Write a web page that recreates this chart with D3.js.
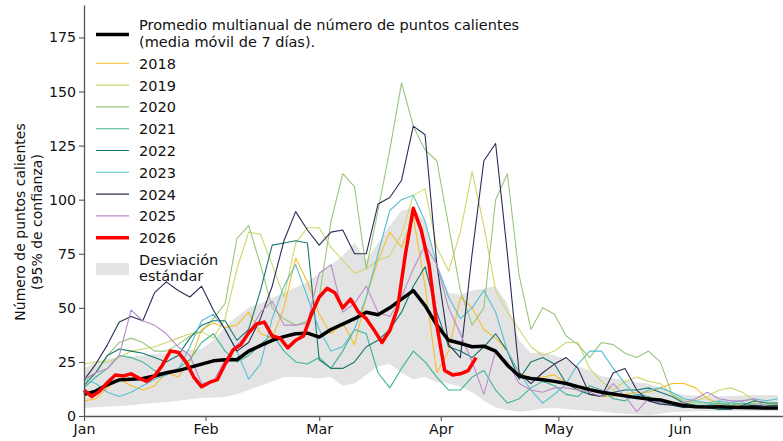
<!DOCTYPE html>
<html>
<head>
<meta charset="utf-8">
<script src="https://cdn.jsdelivr.net/npm/d3@7"></script>
<style>
  body { margin: 0; background: #fff; }
  svg text { font-family: "DejaVu Sans", sans-serif; fill: #111; }
</style>
</head>
<body>
<svg id="chart" width="783" height="441"></svg>
<script>
// días desde el 1 de enero
const dias = d3.range(0, 178, 3);
const dias2026 = d3.range(0, 101, 2);

const meses = ["Jan", "Feb", "Mar", "Apr", "May", "Jun"];
const ticksY = [0, 25, 50, 75, 100, 125, 150, 175];

const promedio = [10, 11.5, 14.5, 16.7, 17, 17.3, 18.5, 20, 21, 22.5,
  24, 25.5, 26, 26, 30, 32.5, 35, 36.7, 38, 38.3,
  36.5, 40, 42.5, 45, 48, 46.8, 50, 54, 58, 51,
  42, 35, 33.6, 32, 32.3, 30, 23.5, 18.5, 17.3, 16.8,
  16, 15, 13.6, 12.2, 11, 10.2, 9.3, 8.5, 7.9, 7.4,
  6, 4.8, 4.3, 4.2, 4.2, 4, 3.9, 3.8, 3.7, 3.7];

const bandaSup = [22, 25, 26.5, 27, 27.5, 28, 28.5, 29, 30, 30.5,
  31, 35, 41, 46, 50, 52, 54.5, 57, 59.5, 62,
  66, 70, 74, 80, 72, 80, 88, 95, 96, 90,
  70, 57, 56, 58, 59, 60, 52, 35, 29, 29.5,
  28, 26, 23, 21, 18.5, 17.5, 16.5, 15.5, 15, 13,
  11, 9.7, 9.5, 9, 9, 9.3, 9.5, 9.7, 9.7, 9.7];

const bandaInf = [3.7, 4, 4.3, 4.6, 5, 5.5, 6, 6.5, 7, 7.7,
  8.3, 8.5, 8.8, 10, 12, 14, 16, 18, 18, 17.8,
  17.5, 18, 14, 15, 19, 23, 24, 20, 17, 18,
  15.5, 15, 13.5, 11, 7, 4, 2.8, 2, 2.5, 3.5,
  3.7, 3.2, 2.8, 2.4, 2, 1.4, 1, 0.7, 0.5, 1,
  1.8, 2, 2.2, 2.3, 2.3, 2.3, 2.3, 2.3, 2.3, 2.3];

const anios = ["2018", "2019", "2020", "2021", "2022", "2023", "2024", "2025"];

const v2018 = [7, 8, 13, 17, 14, 12, 14, 20, 18, 25,
  40, 43, 41, 42, 48, 38, 36, 50, 73, 62,
  47, 38, 43, 33, 55, 72, 85, 78, 92, 60,
  20, 30, 55, 50, 40, 36, 30, 20, 17, 18,
  19, 15, 12, 10, 9, 9, 10, 11, 11, 13,
  15, 15, 13, 8, 6, 5, 4.5, 4, 3.7, 4];

const v2019 = [24, 25, 25, 27, 30, 31, 32, 34, 36, 38,
  39, 36, 45, 68, 85, 84, 70, 55, 80, 87,
  87, 78, 72, 66, 68, 72, 74, 84, 102, 105,
  78, 67, 85, 113, 88, 58, 48, 40, 32, 28,
  30, 34, 34, 22, 16, 12, 16, 18, 16, 15,
  10, 6, 7, 9, 12, 13, 11, 7, 6, 5];

const v2020 = [16, 20, 28, 34, 36, 34, 30, 30, 33, 37,
  39, 45, 52, 82, 88, 70, 50, 45, 42, 44,
  55, 90, 112, 106, 68, 95, 123, 154, 134, 123,
  118, 88, 58, 42, 50, 100, 112, 65, 40, 50,
  47, 37, 33, 27, 34, 33, 29, 27, 30, 25,
  10, 7, 6, 6, 5, 6, 5, 6, 5, 6];

const v2021 = [13, 18, 22, 28, 27, 25, 21, 19, 22, 26,
  34, 38, 30, 25, 28, 33, 38, 30, 25, 24,
  27, 22, 30, 40, 38, 20, 13, 22, 30, 25,
  18, 12, 12, 18, 21, 12, 6, 8, 13, 16,
  14, 10, 9, 14, 12, 8, 7, 10, 9, 6,
  5, 4, 5, 5, 6, 5, 6, 5, 5, 5];

const v2022 = [14, 20, 28, 31, 30, 29, 27, 25, 28, 36,
  42, 44, 44, 35, 40, 58, 79, 80, 81, 80,
  26, 22, 22, 25, 32, 35, 40, 48, 60, 69,
  48, 32, 30, 27, 32, 38, 30, 17, 25, 27,
  24, 15, 12, 10, 9, 11, 12, 12, 13, 11,
  9, 6, 5, 4, 3, 3, 5, 7, 6, 6];

const v2023 = [17, 15, 11, 9, 11, 14, 17, 19, 21, 32,
  44, 47, 40, 30, 17, 24, 45, 60, 70, 55,
  40, 30, 32, 40, 55, 75, 95, 100, 102, 90,
  70, 55, 45, 50, 58, 48, 30, 20, 12, 6,
  10, 15, 24, 30, 30, 22, 15, 9, 12, 13,
  11, 8, 7, 6, 7, 6, 7, 8, 7, 8];

const v2024 = [16.6, 24, 33, 43.5, 46, 44, 57, 62, 58, 55,
  60, 49, 40, 30, 34, 45, 60, 81, 94.5, 86,
  79, 85, 86, 75, 75, 98, 101, 109, 134, 130,
  70, 33, 27, 75, 118, 126, 75, 20, 15, 20,
  24, 27, 22, 10, 9, 20, 22, 12, 7, 5.5,
  5, 4, 4.5, 4, 5, 4, 4.5, 5, 4.5, 5];

const v2025 = [17, 20, 22, 28, 49, 44, 42, 38, 32, 28,
  15, 16, 26, 33, 38, 48, 53, 42, 42, 43,
  66, 70, 48, 52, 60, 48, 46, 55, 68, 79,
  70, 50, 38, 25, 10, 30, 25, 15, 12, 11,
  13, 13, 12, 11, 9, 15, 9, 2, 8, 6,
  6, 6, 8, 11, 8, 7, 7, 8, 4, 3];

const v2026 = [12, 9, 11.5, 15.5, 19, 18.5, 19.5, 17.5, 16, 18.5,
  23.5, 30, 29.5, 25, 18, 13.5, 15.5, 16.8, 24, 30.5,
  33, 38.5, 42.5, 43.4, 37, 36, 31.5, 35, 37, 47,
  55, 59, 57, 50, 54, 48, 45, 39.7, 34, 39.5,
  50, 75, 96, 86, 70, 42, 21, 19, 19.5, 21,
  27];

const valoresAnios = [v2018, v2019, v2020, v2021, v2022, v2023, v2024, v2025];
const colores = ["#f7bd2a", "#cdd76c", "#98c67b", "#3db497", "#17776f", "#55c0cd", "#2a2c54", "#b98bc9"];

const svg = d3.select("#chart");

const dia0 = Date.UTC(2024, 0, 1);
const fecha = d => new Date(dia0 + d * 86400000);

const x = d3.scaleUtc()
  .domain([fecha(0), fecha(178.3)])
  .range([84, 783]);

const y = d3.scaleLinear()
  .domain([0, 190])
  .range([416, 5]);

// banda de desviación estándar
const area = d3.area()
  .x((d, i) => x(fecha(dias[i])))
  .y0((d, i) => y(bandaInf[i]))
  .y1((d, i) => y(bandaSup[i]));

svg.append("path")
  .datum(bandaSup)
  .attr("fill", "#e3e3e3")
  .attr("d", area);

const linea = (ds) => d3.line()
  .x((d, i) => x(fecha(ds[i])))
  .y(d => y(d));

svg.selectAll(".anio")
  .data(valoresAnios)
  .join("path")
  .attr("class", "anio")
  .attr("fill", "none")
  .attr("stroke", (d, i) => colores[i])
  .attr("stroke-width", 1.1)
  .attr("stroke-linejoin", "round")
  .attr("d", d => linea(dias)(d));

svg.append("path")
  .datum(promedio)
  .attr("fill", "none")
  .attr("stroke", "#000")
  .attr("stroke-width", 3.5)
  .attr("stroke-linejoin", "round")
  .attr("d", linea(dias));

svg.append("path")
  .datum(v2026)
  .attr("fill", "none")
  .attr("stroke", "#ff0000")
  .attr("stroke-width", 3.5)
  .attr("stroke-linejoin", "round")
  .attr("d", linea(dias2026));

// ejes
const ticksX = d3.utcMonth.range(fecha(0), fecha(178.3));

const ejeX = svg.append("g")
  .attr("transform", "translate(0,416)")
  .call(d3.axisBottom(x).tickValues(ticksX).tickFormat((d, i) => meses[i]).tickSize(5).tickSizeOuter(0).tickPadding(3));

const ejeY = svg.append("g")
  .attr("transform", "translate(84,0)")
  .call(d3.axisLeft(y).tickValues(ticksY).tickSize(5).tickSizeOuter(0).tickPadding(3));

[ejeX, ejeY].forEach(g => {
  g.select(".domain").attr("stroke", "#555").attr("stroke-width", 1.3);
  g.selectAll(".tick line").attr("stroke", "#555").attr("stroke-width", 1.1);
  g.selectAll(".tick text").attr("font-size", 14.2).attr("fill", "#111")
    .attr("font-family", "DejaVu Sans, sans-serif");
});

// título del eje y
const ty = svg.append("g").attr("transform", "translate(0,222) rotate(-90)");
ty.append("text").attr("x", 0).attr("y", 20).attr("text-anchor", "middle")
  .attr("dominant-baseline", "central").attr("font-size", 14)
  .text("Número de puntos calientes");
ty.append("text").attr("x", 0).attr("y", 37).attr("text-anchor", "middle")
  .attr("dominant-baseline", "central").attr("font-size", 14)
  .text("(95% de confianza)");

// leyenda
const ley = svg.append("g");
ley.append("line").attr("x1", 96).attr("x2", 129).attr("y1", 34.5).attr("y2", 34.5)
  .attr("stroke", "#000").attr("stroke-width", 3.5);
ley.append("text").attr("x", 139).attr("y", 30).attr("font-size", 14.5)
  .text("Promedio multianual de número de puntos calientes");
ley.append("text").attr("x", 139).attr("y", 47).attr("font-size", 14.5)
  .text("(media móvil de 7 días).");

const etiquetas = anios.concat(["2026"]);
const coloresLey = colores.concat(["#ff0000"]);
etiquetas.forEach((t, i) => {
  const yy = 63.3 + i * 21.8;
  ley.append("line").attr("x1", 96).attr("x2", 129).attr("y1", yy).attr("y2", yy)
    .attr("stroke", coloresLey[i]).attr("stroke-width", t === "2026" ? 3.5 : 1.1);
  ley.append("text").attr("x", 139).attr("y", yy + 5.5).attr("font-size", 14.5).text(t);
});

ley.append("rect").attr("x", 96).attr("y", 263).attr("width", 33).attr("height", 12)
  .attr("fill", "#e3e3e3");
ley.append("text").attr("x", 139).attr("y", 265).attr("font-size", 14.5).text("Desviación");
ley.append("text").attr("x", 139).attr("y", 281).attr("font-size", 14.5).text("estándar");
</script>
</body>
</html>
